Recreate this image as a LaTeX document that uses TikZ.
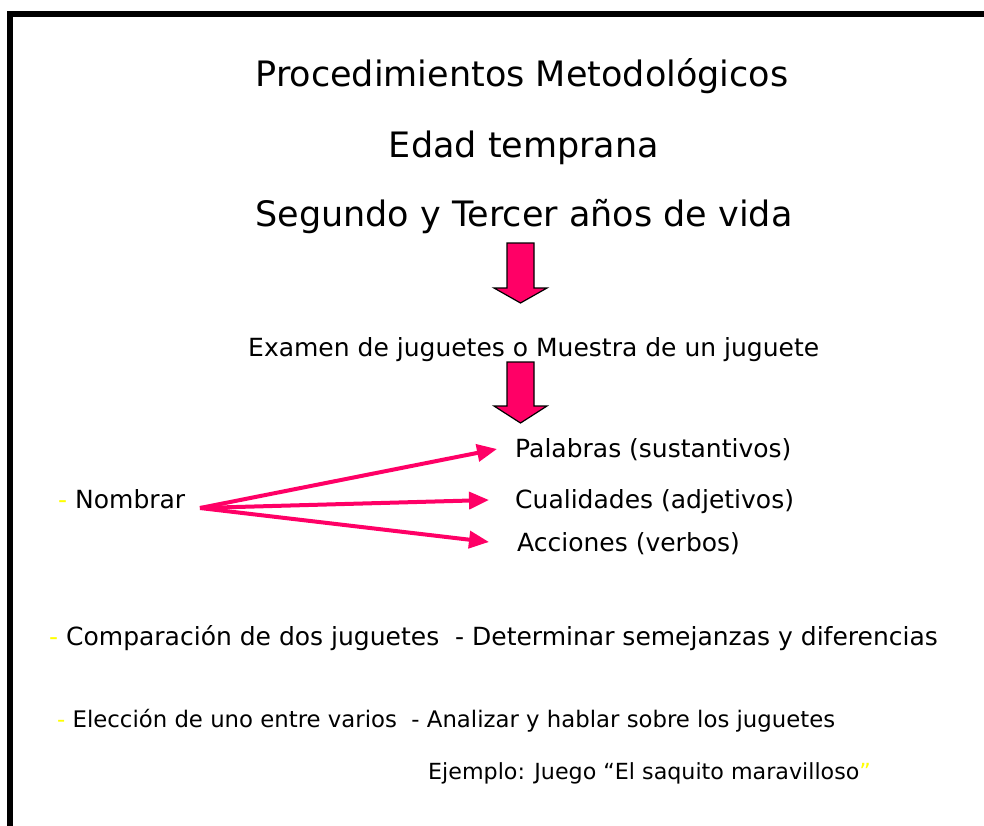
\documentclass[tikz,border=0pt]{standalone}
\usepackage{fontspec}
\setmainfont{DejaVu Sans}
\usetikzlibrary{arrows.meta}
\definecolor{pk}{HTML}{FF0066}
\definecolor{yl}{HTML}{FFFF00}
\begin{document}
\begin{tikzpicture}[x=1pt,y=-1pt,
  big/.style={inner sep=0pt, anchor=base, font=\fontsize{35}{42}\selectfont},
  mid/.style={inner sep=0pt, anchor=base west, font=\fontsize{25}{30}\selectfont},
  sml/.style={inner sep=0pt, anchor=base west, font=\fontsize{22.8}{28}\selectfont},
  xsml/.style={inner sep=0pt, anchor=base west, font=\fontsize{22.2}{27}\selectfont},
  blockarrow/.style={fill=pk, draw=black, line width=1.2pt},
  link/.style={draw=pk, line width=4pt, -{Triangle[length=20pt,width=17pt]}}]
\useasboundingbox (0,0) rectangle (984,826);
\fill[white] (0,0) rectangle (984,826);
\draw[line width=6pt] (10,14) rectangle (1010,850);

\node[big] (t1) at (522,87) {Procedimientos Metodológicos};
\node[big] (t2) at (524,158) {Edad temprana};
\node[big] (t3) at (524,227) {Segundo y Tercer años de vida};

\draw[blockarrow] (507,243) -- (534,243) -- (534,288) -- (547,288) -- (520.5,303)
  -- (494,288) -- (507,288) -- cycle;

\node[mid] (ex) at (248,356) {Examen de juguetes o Muestra de un juguete};

\draw[blockarrow] (507,362) -- (534,362) -- (534,406) -- (547,406) -- (520.5,423)
  -- (494,406) -- (507,406) -- cycle;

\node[mid] (pal) at (515,457) {Palabras (sustantivos)};
\node[mid] (cua) at (515,508) {Cualidades (adjetivos)};
\node[mid] (acc) at (517,551) {Acciones (verbos)};
\node[mid] (nom) at (58,508) {{\color{yl}-} Nombrar};

\coordinate (s) at (200,508);
\coordinate (epal) at (497,449);
\coordinate (ecua) at (489,500);
\coordinate (eacc) at (489,542);
\draw[link] (s) -- (epal);
\draw[link] (s) -- (ecua);
\draw[link] (s) -- (eacc);

\node[mid] (cmp) at (49,645) {{\color{yl}-} Comparación de dos juguetes\ \ - Determinar semejanzas y diferencias};
\node[sml] (ele) at (57,727) {{\color{yl}-} Elección de uno entre varios\ \ - Analizar y hablar sobre los juguetes};
\node[xsml] (ej) at (428,779) {Ejemplo: Juego “El saquito maravilloso{\color{yl}"}};
\end{tikzpicture}
\end{document}
